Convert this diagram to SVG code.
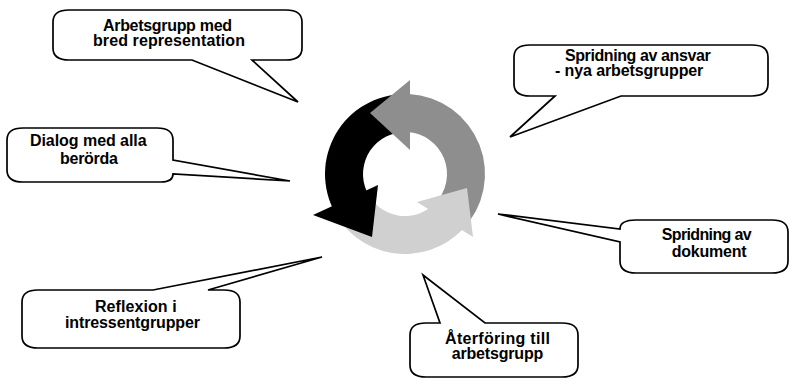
<svg xmlns="http://www.w3.org/2000/svg" width="795" height="379" viewBox="0 0 795 379">
<style>
.co{fill:#fff;stroke:#000;stroke-width:1.7;stroke-linejoin:miter}
.t{font-family:"Liberation Sans",Arial,sans-serif;font-weight:bold;font-size:16px;fill:#000;text-anchor:middle}
.dk{fill:#8e8e8e}
.lt{fill:#d0d0d0}
.bk{fill:#000}
</style>
<rect width="795" height="379" fill="#fff"/>
<g id="cycle">
<path class="dk" d="M409.19,94.11 A80,80 0 0 1 462.55,229.57 L435.21,203.18 A42,42 0 0 0 407.20,132.06 Z"/>
<path class="bk" d="M409.19,94.11 A80,80 0 0 0 332.50,207.81 L366.93,191.75 A42,42 0 0 1 407.20,132.06 Z"/>
<path class="lt" d="M332.50,207.81 A80,80 0 0 0 462.55,229.57 L435.21,203.18 A42,42 0 0 1 366.93,191.75 Z"/>
<polygon class="dk" points="410,80 370,113 410,150"/>
<polygon class="bk" points="378,185 313,215 372,237"/>
<polygon class="lt" points="417,202 467,188 473,237"/>
</g>
<g id="arbetsgrupp">
<path class="co" d="M69,10 H286 Q302,10 302,22 V48 Q302,60 286,60 H252 L298,102 L192,60 H69 Q53,60 53,48 V22 Q53,10 69,10 Z"/>
<text class="t" x="167.5" y="30.5" textLength="129">Arbetsgrupp med</text>
<text class="t" x="169" y="46" textLength="152">bred representation</text>
</g>
<g id="spridning-ansvar">
<path class="co" d="M530,45 H752 Q768,45 768,57 V84 Q768,96 752,96 H621 L510,137 L555,96 H530 Q514,96 514,84 V57 Q514,45 530,45 Z"/>
<text class="t" x="637.8" y="60.7" textLength="145.7">Spridning av ansvar</text>
<text class="t" x="629.2" y="76" textLength="148.3">- nya arbetsgrupper</text>
</g>
<g id="dialog">
<path class="co" d="M23,128 H157 Q173,128 173,140 V160 L290,181 L173,174 Q173,182 161,182 H23 Q7,182 7,170 V140 Q7,128 23,128 Z"/>
<text class="t" x="88.3" y="146" textLength="116.7">Dialog med alla</text>
<text class="t" x="89" y="164" textLength="58">berörda</text>
</g>
<g id="spridning-dokument">
<path class="co" d="M636,220 H772 Q788,220 788,232 V261 Q788,273 772,273 H636 Q620,273 620,261 V242 L498,214 L620,229 Q620,220 636,220 Z"/>
<text class="t" x="706.7" y="239.5" textLength="90">Spridning av</text>
<text class="t" x="709.2" y="257" textLength="75">dokument</text>
</g>
<g id="reflexion">
<path class="co" d="M38,290 H153 L322,257 L208,290 H224 Q240,290 240,302 V336 Q240,348 224,348 H38 Q22,348 22,336 V302 Q22,290 38,290 Z"/>
<text class="t" x="135.8" y="311.7" textLength="81.7">Reflexion i</text>
<text class="t" x="132.5" y="327.5" textLength="135">intressentgrupper</text>
</g>
<g id="aterforing">
<path class="co" d="M426,323 H440 L423,275 L485,323 H562 Q578,323 578,335 V365 Q578,377 562,377 H426 Q410,377 410,365 V335 Q410,323 426,323 Z"/>
<text class="t" x="497.5" y="343.5" textLength="105">Återföring till</text>
<text class="t" x="497.5" y="359" textLength="91.7">arbetsgrupp</text>
</g>
<g id="connectors"></g>
</svg>
